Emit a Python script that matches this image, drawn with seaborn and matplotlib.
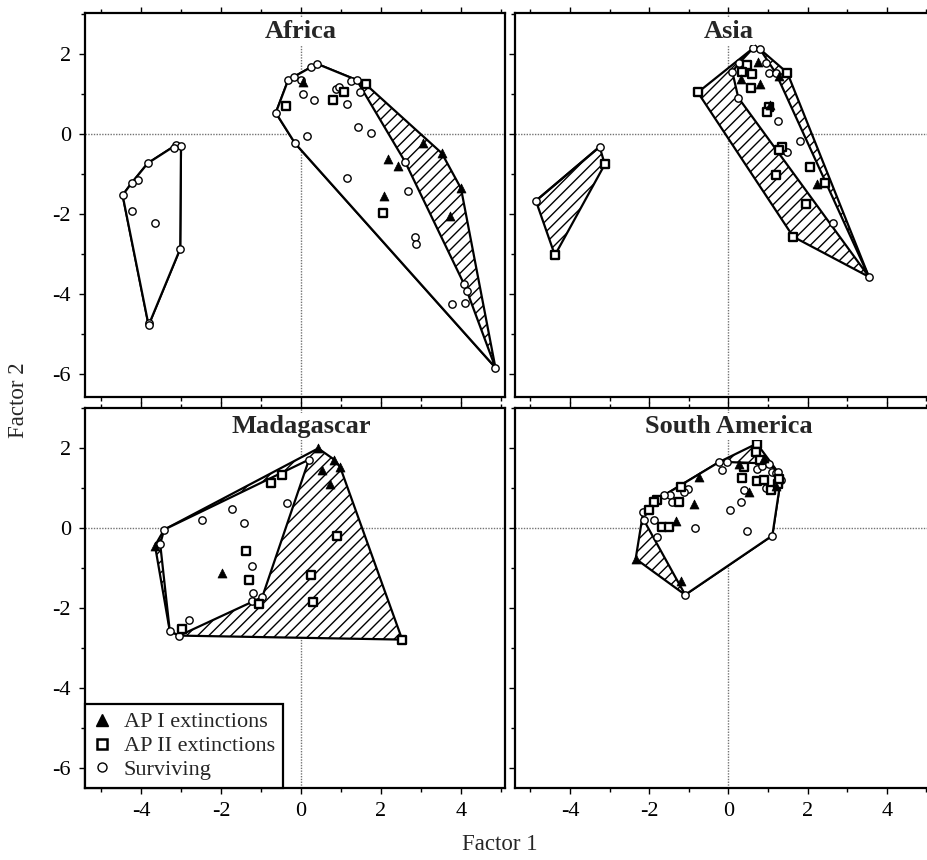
import numpy as np
import pandas as pd
import matplotlib
matplotlib.use("Agg")
import matplotlib.pyplot as plt
from matplotlib.patches import Polygon
from matplotlib.lines import Line2D
from matplotlib.ticker import MultipleLocator
import seaborn as sns

# ---------------- data (Factor 1, Factor 2) ----------------
AFRICA_AP1 = [(0.06, 1.31), (3.06, -0.23), (3.52, -0.48), (2.18, -0.63), (2.43, -0.80),
              (4.00, -1.36), (2.08, -1.55), (3.73, -2.05)]
AFRICA_AP2 = [(-0.38, 0.70), (0.79, 0.86), (1.07, 1.05), (1.62, 1.24), (2.04, -1.97)]
AFRICA_SURV = [(-3.13, -0.28), (-3.00, -0.30), (-3.18, -0.35), (-3.83, -0.73), (-4.08, -1.15),
               (-4.23, -1.22), (-4.46, -1.53), (-4.23, -1.93), (-3.65, -2.22), (-3.02, -2.87),
               (-3.81, -4.73), (-3.81, -4.78),
               (-0.32, 1.35), (-0.17, 1.43), (0.00, 1.35), (0.25, 1.67), (0.41, 1.75),
               (0.06, 1.00), (0.33, 0.85), (-0.63, 0.53), (0.14, -0.04), (-0.15, -0.23),
               (0.88, 1.12), (0.96, 1.17), (1.16, 0.74), (1.25, 1.33), (1.39, 1.35),
               (1.48, 1.06), (1.43, 0.17), (1.74, 0.02), (2.60, -0.69), (2.68, -1.43),
               (2.85, -2.57), (2.88, -2.75), (1.14, -1.09), (4.08, -3.76), (4.15, -3.93),
               (3.77, -4.26), (4.10, -4.23), (4.86, -5.84)]

ASIA_AP1 = [(0.33, 1.38), (0.75, 1.81), (0.80, 1.24), (1.28, 1.45), (2.25, -1.25), (1.05, 0.72)]
ASIA_AP2 = [(-4.38, -3.03), (-3.12, -0.76), (-0.77, 1.04), (0.46, 1.72), (0.34, 1.56),
            (0.57, 1.14), (0.61, 1.49), (1.49, 1.53), (1.03, 0.68), (0.98, 0.54),
            (1.36, -0.32), (1.28, -0.40), (2.06, -0.83), (1.20, -1.03), (2.43, -1.23),
            (1.95, -1.76), (1.64, -2.57)]
ASIA_SURV = [(-4.86, -1.67), (-3.25, -0.32),
             (0.10, 1.56), (0.25, 0.91), (0.62, 2.14), (0.80, 2.12), (0.94, 1.77),
             (0.27, 1.77), (0.35, 1.54), (1.03, 1.52), (1.20, 1.52),
             (1.26, 0.33), (1.81, -0.17), (1.49, -0.44), (2.65, -2.22), (3.55, -3.57)]

MADA_AP1 = [(0.43, 2.00), (0.52, 1.47), (0.83, 1.72), (0.98, 1.53), (0.73, 1.11),
            (-3.65, -0.43), (-1.98, -1.11)]
MADA_AP2 = [(-0.47, 1.34), (-0.76, 1.14), (0.91, -0.18), (-1.38, -0.57), (-1.30, -1.30),
            (0.25, -1.16), (-1.04, -1.90), (0.31, -1.85), (-2.98, -2.51), (2.53, -2.78)]
MADA_SURV = [(0.20, 1.72), (-0.36, 0.64), (-1.73, 0.49), (-2.48, 0.22), (-1.42, 0.14),
             (-3.42, -0.03), (-3.52, -0.39), (-1.23, -0.93), (-1.19, -1.61), (-0.97, -1.72),
             (-1.23, -1.82), (-2.79, -2.28), (-3.28, -2.57), (-3.04, -2.68)]

SAM_AP1 = [(0.27, 1.62), (-0.74, 1.28), (-0.87, 0.62), (0.52, 0.91), (-1.33, 0.18),
           (-2.34, -0.76), (-1.20, -1.32), (0.90, 1.75), (1.20, 1.05)]
SAM_AP2 = [(0.72, 2.12), (0.69, 1.91), (0.40, 1.53), (0.34, 1.27), (0.73, 1.18), (0.90, 1.20),
           (1.07, 0.95), (1.25, 1.12), (1.28, 1.24), (-1.20, 1.03), (-1.25, 0.66),
           (-1.79, 0.70), (-1.88, 0.66), (-2.00, 0.45), (-1.68, 0.03), (-1.51, 0.03), (0.80, 1.70)]
SAM_SURV = [(-0.23, 1.66), (-0.04, 1.66), (-0.17, 1.45), (0.72, 1.49), (0.84, 1.55),
            (1.03, 1.62), (1.10, 1.41), (1.20, 1.39), (1.25, 1.41), (1.32, 1.20), (0.40, 0.95),
            (0.33, 0.66), (0.03, 0.45), (-1.03, 0.99), (-1.12, 0.91), (-1.47, 0.84),
            (-1.43, 0.66), (-1.62, 0.83), (-2.15, 0.41), (-2.13, 0.20), (-1.88, 0.20),
            (-1.79, -0.22), (-0.84, 0.01), (0.48, -0.07), (1.11, -0.18), (-1.09, -1.66),
            (0.95, 1.00)]

REGIONS = ["Africa", "Asia", "Madagascar", "South America"]
LEGEND_LABELS = ["AP I extinctions", "AP II extinctions", "Surviving"]
X_TICKS = [-4, -2, 0, 2, 4]
Y_TICKS = [-6, -4, -2, 0, 2]
CLUSTER_SPLIT = {"Africa": -2.0, "Asia": -2.0, "Madagascar": None, "South America": None}

DATA = {
    "Africa": (AFRICA_AP1, AFRICA_AP2, AFRICA_SURV),
    "Asia": (ASIA_AP1, ASIA_AP2, ASIA_SURV),
    "Madagascar": (MADA_AP1, MADA_AP2, MADA_SURV),
    "South America": (SAM_AP1, SAM_AP2, SAM_SURV),
}

# ---------------- style ----------------
sns.set_style("ticks")
plt.rcParams["font.family"] = ["Liberation Serif", "DejaVu Serif"]
plt.rcParams["hatch.linewidth"] = 1.0
plt.rcParams["hatch.color"] = "black"


def convex_hull(pts):
    pts = sorted(set(pts))
    if len(pts) <= 2:
        return pts

    def cross(o, a, b):
        return (a[0] - o[0]) * (b[1] - o[1]) - (a[1] - o[1]) * (b[0] - o[0])

    lower = []
    for p in pts:
        while len(lower) >= 2 and cross(lower[-2], lower[-1], p) <= 0:
            lower.pop()
        lower.append(p)
    upper = []
    for p in reversed(pts):
        while len(upper) >= 2 and cross(upper[-2], upper[-1], p) <= 0:
            upper.pop()
        upper.append(p)
    return lower[:-1] + upper[:-1]


W, H = 927, 860
fig = plt.figure(figsize=(W / 100, H / 100), dpi=100)


def px_axes(x0, y0, x1, y1):
    return fig.add_axes([x0 / W, 1 - y1 / H, (x1 - x0) / W, (y1 - y0) / H])


axes = {
    "Africa": px_axes(85, 13, 505, 397),
    "Asia": px_axes(514.5, 13, 930.3, 397),
    "Madagascar": px_axes(85, 408, 505, 788),
    "South America": px_axes(514.5, 408, 930.3, 788),
}
YLIMS = {"Africa": (-6.575, 3.025), "Asia": (-6.575, 3.025),
         "Madagascar": (-6.49, 3.01), "South America": (-6.49, 3.01)}

for name in REGIONS:
    ax = axes[name]
    ap1, ap2, surv = DATA[name]
    split = CLUSTER_SPLIT[name]
    allpts = ap1 + ap2 + surv
    if split is None:
        groups = [(allpts, surv)]
    else:
        groups = [([p for p in allpts if p[0] < split], [p for p in surv if p[0] < split]),
                  ([p for p in allpts if p[0] >= split], [p for p in surv if p[0] >= split])]
    for gall, gsurv in groups:
        h_all = convex_hull(gall)
        ax.add_patch(Polygon(h_all, closed=True, facecolor="white", edgecolor="black",
                             hatch="///", lw=1.6, zorder=2, joinstyle="round"))
        h_s = convex_hull(gsurv)
        ax.add_patch(Polygon(h_s, closed=True, facecolor="white", edgecolor="black",
                             lw=1.6, zorder=3, joinstyle="round"))

    ds = pd.DataFrame(surv, columns=["f1", "f2"])
    d2 = pd.DataFrame(ap2, columns=["f1", "f2"])
    d1 = pd.DataFrame(ap1, columns=["f1", "f2"])
    sns.scatterplot(data=ds, x="f1", y="f2", marker="o", s=28, color="white",
                    edgecolor="black", linewidth=1.0, ax=ax, zorder=4, legend=False)
    sns.scatterplot(data=d2, x="f1", y="f2", marker="s", s=28, color="white",
                    edgecolor="black", linewidth=1.7, ax=ax, zorder=5, legend=False)
    sns.scatterplot(data=d1, x="f1", y="f2", marker="^", s=42, color="black",
                    edgecolor="black", linewidth=0.5, ax=ax, zorder=6, legend=False)

    ax.axhline(0, ls=(0, (1, 1)), color="0.45", lw=1.0, zorder=1)
    ax.axvline(0, ls=(0, (1, 1)), color="0.45", lw=1.0, zorder=1)

    ax.set_xlim(-5.4, 5.1)
    ax.set_ylim(*YLIMS[name])
    ax.set_xticks(X_TICKS)
    ax.set_yticks(Y_TICKS)
    ax.xaxis.set_minor_locator(MultipleLocator(1))
    ax.yaxis.set_minor_locator(MultipleLocator(1))
    ax.set_xticklabels([f"{t}" for t in X_TICKS])
    ax.set_yticklabels([f"{t}" for t in Y_TICKS])
    ax.set_xlabel("")
    ax.set_ylabel("")
    for s in ax.spines.values():
        s.set_linewidth(1.6)
        s.set_color("black")
    ax.spines["right"].set_visible(name in ("Africa", "Madagascar"))
    ax.tick_params(which="both", direction="out", top=True, bottom=True, left=True,
                   right=False, width=1.0, colors="black", labelsize=16, pad=6)
    ax.tick_params(which="major", length=4)
    ax.tick_params(which="minor", length=3)
    ax.tick_params(labelbottom=name in ("Madagascar", "South America"),
                   labelleft=name in ("Africa", "Madagascar"))

    ax.text(0, 0.935, name, transform=ax.get_xaxis_transform(), ha="center",
            va="baseline", fontsize=19, fontweight="bold", zorder=7,
            bbox=dict(facecolor="white", edgecolor="none", pad=1.5))

handles = [
    Line2D([], [], marker="^", ls="none", color="black", markerfacecolor="black",
           markersize=8),
    Line2D([], [], marker="s", ls="none", color="black", markerfacecolor="white",
           markeredgewidth=1.8, markersize=6.5),
    Line2D([], [], marker="o", ls="none", color="black", markerfacecolor="white",
           markeredgewidth=1.0, markersize=6.5),
]
leg = axes["Madagascar"].legend(handles, LEGEND_LABELS, loc="lower left",
                                bbox_to_anchor=(0, 0), borderaxespad=0.0, frameon=True,
                                fancybox=False, edgecolor="black", framealpha=1,
                                fontsize=16, handlelength=0.8, handletextpad=0.6,
                                labelspacing=0.15, borderpad=0.35)
leg.get_frame().set_linewidth(1.6)
leg.set_zorder(10)

fig.text(18 / W, 1 - 400 / H, "Factor 2", rotation=90, ha="center", va="center",
         fontsize=16.5)
fig.text(500 / W, 1 - 845 / H, "Factor 1", ha="center", va="center", fontsize=16.5)

fig.savefig("out.png", dpi=100)
